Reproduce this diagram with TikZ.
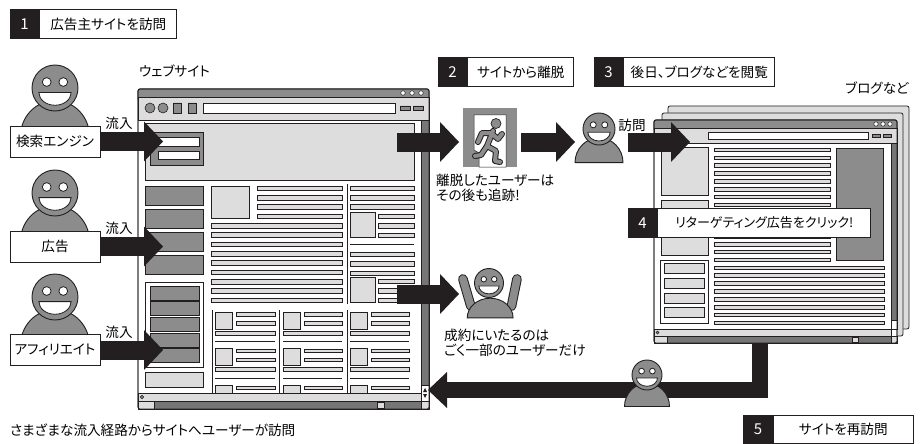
\documentclass[tikz,border=0pt]{standalone}
\usepackage{fontspec}
\setmainfont[RawFeature=+palt]{Noto Sans CJK JP}
\usepackage{tikz}
\usetikzlibrary{positioning, arrows.meta}

\definecolor{ink}{HTML}{231F20}
\definecolor{midgrey}{HTML}{8C8C8C}
\definecolor{palegrey}{HTML}{DDDDDD}
\definecolor{bargrey}{HTML}{767676}

\begin{document}
\begin{tikzpicture}[
    x=1pt, y=-1pt,
    % Define common styles
    note/.style={font=\fontsize{13.6}{15}\selectfont, inner sep=0pt},
    stepno/.style={draw=ink, fill=ink, text=white, line width=0.8pt, minimum width=29pt, minimum height=29pt, inner sep=0pt, font=\fontsize{15}{16}\selectfont},
    steptext/.style={draw=ink, fill=white, line width=0.8pt, minimum height=29pt, inner sep=0pt, font=\fontsize{13.6}{16}\selectfont},
    source/.style={draw=ink, fill=white, line width=0.8pt, minimum width=90pt, minimum height=31pt, inner sep=0pt, font=\fontsize{13.6}{16}\selectfont},
    flow/.style={draw=ink, line width=19pt, -{Triangle[length=19pt, width=40pt, line width=0pt]}},
    frame/.style={draw=ink, line width=0.8pt},
    bar/.style={draw=ink, fill=palegrey, line width=0.6pt},
    block/.style={draw=ink, fill=midgrey, line width=0.6pt},
    rule/.style={draw=ink, line width=0.6pt},
    person/.pic={
        % body first, then the head on top
        \filldraw[fill=midgrey, draw=ink, line width=0.9pt] (-1.5,2.1) arc[start angle=180, end angle=360, x radius=1.5, y radius=1.55] -- cycle;
        \filldraw[fill=midgrey, draw=ink, line width=0.9pt] (0,0) circle[radius=1];
        \filldraw[fill=white, draw=ink, line width=0.8pt] (-0.36,-0.26) circle[radius=0.19] (0.36,-0.26) circle[radius=0.19];
        \filldraw[fill=white, draw=ink, line width=0.8pt] (0.7,0.2) arc[start angle=0, end angle=180, x radius=0.7, y radius=0.55] -- cycle;
    },
    cheer/.pic={
        % raised arms behind the body
        \draw[ink, line width=9.6pt, line cap=round] (-1.25,1.6) -- (-1.8,-0.28) (1.55,1.6) -- (1.93,-0.28);
        \draw[midgrey, line width=7.6pt, line cap=round] (-1.25,1.6) -- (-1.8,-0.28) (1.55,1.6) -- (1.93,-0.28);
        \filldraw[fill=midgrey, draw=ink, line width=0.9pt] (-1.5,2.4) arc[start angle=180, end angle=360, x radius=1.58, y radius=1.35] -- cycle;
        \filldraw[fill=midgrey, draw=ink, line width=0.9pt] (0,0) circle[radius=1];
        \filldraw[fill=white, draw=ink, line width=0.8pt] (-0.36,-0.26) circle[radius=0.19] (0.36,-0.26) circle[radius=0.19];
        \filldraw[fill=white, draw=ink, line width=0.8pt] (0.7,0.2) arc[start angle=0, end angle=180, x radius=0.7, y radius=0.55] -- cycle;
    }
  ]
  \useasboundingbox (0,0) rectangle (922,444);

  % ---------------- website window ----------------
  \filldraw[frame, fill=white, rounded corners=2pt] (138,89) rectangle (429,409);
  \filldraw[frame, fill=midgrey, rounded corners=2pt] (138,89) rectangle (429,101);
  \filldraw[frame, fill=palegrey] (138,97) rectangle (429,120);
  \foreach \x in {403,412,421}
    \filldraw[fill=white, draw=ink, line width=0.5pt] (\x,93) circle[radius=2.3];
  % toolbar
  \filldraw[block] (150,108) circle[radius=5] (163,108) circle[radius=5];
  \filldraw[block] (173,103) rectangle (181,113) (188,103) rectangle (196,113);
  \filldraw[fill=white, rule] (203,103) rectangle (395,113);
  \filldraw[block] (400,106) rectangle (410,110) (413,106) rectangle (423,110);

  % page content
  \begin{scope}
    \clip (138,120) rectangle (421,393);
    % header with search form
    \filldraw[bar] (145,123) rectangle (414,180);
    \filldraw[block] (150,132) rectangle (203,165);
    \filldraw[fill=white, rule] (158,137) rectangle (199,146) (158,151) rectangle (199,159);
    % left menu
    \foreach \y in {186,209,232,255}
      \filldraw[block] (145,\y) rectangle (203,\y+19.5);
    \filldraw[fill=white, rule] (145,282) rectangle (203,367);
    \foreach \k in {0,...,4}
      \filldraw[block] (150,{286+15.6*\k}) rectangle (199,{300+15.6*\k});
    \filldraw[bar] (145,372) rectangle (203,387);
    % main text column
    \filldraw[bar] (211,186) rectangle (249,218);
    \foreach \k in {0,...,12}{
      \pgfmathsetmacro\yy{186+9.33*\k}
      \ifnum\k<4 \def\xa{257}\else\def\xa{211}\fi
      \filldraw[bar] (\xa,\yy) rectangle (342,\yy+4.5);
    }
    \draw[rule] (347,184) -- (347,304);
    % right column
    \foreach \y in {186,195.3,204.7,252,261.5,271}
      \filldraw[bar] (350,\y) rectangle (414,\y+4.5);
    \filldraw[bar] (350,212) rectangle (375,237) (350,277) rectangle (375,302);
    \foreach \y in {214,223.5,233,279,288.5,298}
      \filldraw[bar] (378,\y) rectangle (414,\y+4.5);
    \draw[rule] (350,244) -- (414,244);
    % article grid
    \foreach \x in {212,279,347}
      \draw[rule] (\x,310) -- (\x,393);
    \foreach \xo/\xe in {215/275,283/342,350/409}
      \foreach \r in {0,1,2}{
        \pgfmathsetmacro\yo{312+36.7*\r}
        \filldraw[bar] (\xo,\yo) rectangle (\xo+17,\yo+17);
        \filldraw[bar] (\xo+21,\yo+0.5) rectangle (\xe,\yo+4);
        \filldraw[bar] (\xo+21,\yo+9.5) rectangle (\xe,\yo+13);
        \filldraw[bar] (\xo,\yo+19) rectangle (\xe,\yo+23);
        \draw[rule] (\xo,\yo+29.5) -- (\xe,\yo+29.5);
      }
  \end{scope}
  % scroll bars and status bar
  \filldraw[frame, fill=bargrey] (421,120) rectangle (429,385);
  \filldraw[frame, fill=white] (421,385) rectangle (429,401);
  \fill[ink] (423,392) -- (427,392) -- (425,388) -- cycle (423,394) -- (427,394) -- (425,398) -- cycle;
  \filldraw[frame, fill=palegrey] (138,393) rectangle (421,401);
  \filldraw[block] (142,397) circle[radius=1.8];
  \filldraw[frame, fill=bargrey] (138,401) rectangle (421,409);
  \filldraw[frame, fill=palegrey] (138,401) rectangle (154,409);
  \filldraw[bar] (377,402) rectangle (384,408);
  \filldraw[frame, fill=palegrey] (421,401) rectangle (429,409);
  \draw[frame, rounded corners=2pt] (138,89) rectangle (429,409);
  \node[note, anchor=west] (sitename) at (139,71) {ウェブサイト};

  % ---------------- blog windows ----------------
  \filldraw[frame, fill=palegrey, rounded corners=2pt] (668,106) rectangle (909,329);
  \filldraw[frame, fill=palegrey, rounded corners=2pt] (662,113) rectangle (903,336);
  \filldraw[frame, fill=white, rounded corners=2pt] (654,120) rectangle (897,343);
  \filldraw[frame, fill=midgrey, rounded corners=2pt] (654,120) rectangle (897,131);
  \filldraw[frame, fill=palegrey] (654,128) rectangle (897,143);
  \foreach \x in {876,883,890}
    \filldraw[fill=white, draw=ink, line width=0.5pt] (\x,124) circle[radius=2.2];
  \filldraw[fill=white, rule] (708,132) rectangle (868,139);
  \filldraw[block] (872,134) rectangle (880,137.5) (883,134) rectangle (891,137.5);
  \begin{scope}
    \clip (654,143) rectangle (891,329);
    \filldraw[bar] (661,147) rectangle (708,195);
    \filldraw[bar] (661,200) rectangle (708,255);
    \filldraw[fill=white, rule] (660,260) rectangle (708,323);
    \foreach \y in {263,278,293,307}
      \filldraw[bar] (664,\y) rectangle (704,\y+10.5);
    \foreach \k in {0,...,22}{
      \pgfmathsetmacro\yy{148+7.86*\k}
      \ifnum\k<15 \def\xb{830}\else\def\xb{884}\fi
      \filldraw[bar] (714,\yy) rectangle (\xb,\yy+3.6);
    }
    \filldraw[block] (836,148) rectangle (883,260);
  \end{scope}
  \filldraw[frame, fill=bargrey] (891,143) rectangle (897,320);
  \filldraw[frame, fill=white] (891,320) rectangle (897,329);
  \filldraw[frame, fill=palegrey] (654,329) rectangle (891,336);
  \filldraw[block] (657.5,332.5) circle[radius=1.5];
  \filldraw[frame, fill=bargrey] (654,336) rectangle (891,343);
  \filldraw[frame, fill=palegrey] (654,336) rectangle (667,343);
  \filldraw[bar] (852,337) rectangle (858,342);
  \filldraw[frame, fill=palegrey] (891,336) rectangle (897,343);
  \draw[frame, rounded corners=2pt] (654,120) rectangle (897,343);
  \node[note] (blogname) at (877,88) {ブログなど};

  % ---------------- exit sign ----------------
  \fill[midgrey] (463,108) rectangle (517,167);
  \filldraw[fill=white, draw=ink, line width=0.5pt] (474,115) -- (506,115) -- (506,167) -- (479,167) -- (479,153) -- (474,150) -- cycle;
  \draw[ink, line width=6pt, line cap=round, line join=round]
    (493,131) -- (487,146) (491,133) -- (498,139) -- (502,134) (490,133) -- (482,133) -- (478,142)
    (487,146) -- (496,151) -- (495,161) -- (500,162) (487,146) -- (481,155) -- (475,156);
  \draw[midgrey, line width=4pt, line cap=round, line join=round]
    (493,131) -- (487,146) (491,133) -- (498,139) -- (502,134) (490,133) -- (482,133) -- (478,142)
    (487,146) -- (496,151) -- (495,161) -- (500,162) (487,146) -- (481,155) -- (475,156);
  \filldraw[fill=midgrey, draw=ink, line width=0.7pt] (496,123.5) circle[radius=5];
  \node[note, align=left, anchor=north west] (lost) at (436,174) {離脱したユーザーは\\その後も追跡!};

  % ---------------- arrow end points ----------------
  \coordinate (in1) at (163,141.5);
  \coordinate (in2) at (163,246.5);
  \coordinate (in3) at (163,350);
  \coordinate (leave) at (397,142);
  \coordinate (exitin) at (459,142);
  \coordinate (exitout) at (521,142);
  \coordinate (meet) at (575,142);
  \coordinate (go) at (628,142);
  \coordinate (blogin) at (690,142);
  \coordinate (buy) at (397,294);
  \coordinate (buyin) at (459,294);
  \coordinate (back) at (760,343);
  \coordinate (backin) at (428,390);

  % ---------------- visitors ----------------
  \pic[scale=23] at (55,88) {person};
  \pic[scale=23] at (55,193) {person};
  \pic[scale=23] at (55,297) {person};
  \node[source] (search) at (55,141.5) {検索エンジン};
  \node[source] (ad) at (55,246.5) {広告};
  \node[source] (aff) at (55,350) {アフィリエイト};
  \node[note] (flow1) at (119,123) {流入};
  \node[note] (flow2) at (119,228) {流入};
  \node[note] (flow3) at (119,332) {流入};

  % ---------------- arrows ----------------
  \draw[flow] (search.east) -- (in1);
  \draw[flow] (ad.east) -- (in2);
  \draw[flow] (aff.east) -- (in3);
  \draw[flow] (leave) -- (exitin);
  \draw[flow] (exitout) -- (meet);
  \draw[flow] (go) -- (blogin);
  \draw[flow] (buy) -- (buyin);
  \draw[flow, line width=16pt, -{Triangle[length=19pt, width=36pt, line width=0pt]}] (back) |- (backin);

  \pic[scale=16] at (599,129) {person};
  \node[note] (visit) at (632,125) {訪問};
  \pic[scale=14.5] at (489,283) {cheer};
  \node[note, align=left, anchor=north west] (few) at (444,329) {成約にいたるのは\\ごく一部のユーザーだけ};
  \pic[scale=15] at (647,375) {person};

  % ---------------- steps ----------------
  \node[stepno] (n1) at (24.5,24) {1};
  \node[steptext, right=0pt of n1, minimum width=137pt] (s1) {広告主サイトを訪問};
  \node[stepno] (n2) at (452.5,72) {2};
  \node[steptext, right=0pt of n2, minimum width=106pt] (s2) {サイトから離脱};
  \node[stepno] (n3) at (608.5,72) {3};
  \node[steptext, right=0pt of n3, minimum width=151pt] (s3) {後日、ブログなどを閲覧};
  \node[stepno] (n4) at (642.5,223) {4};
  \node[steptext, right=0pt of n4, minimum width=213pt, font=\fontsize{13}{14}\selectfont] (s4) {リターゲティング広告をクリック!};
  \node[stepno, minimum height=28pt] (n5) at (758,429.5) {5};
  \node[steptext, right=0pt of n5, minimum width=140pt, minimum height=28pt] (s5) {サイトを再訪問};

  \node[note, anchor=west] (summary) at (10,430) {さまざまな流入経路からサイトへユーザーが訪問};
\end{tikzpicture}
\end{document}
